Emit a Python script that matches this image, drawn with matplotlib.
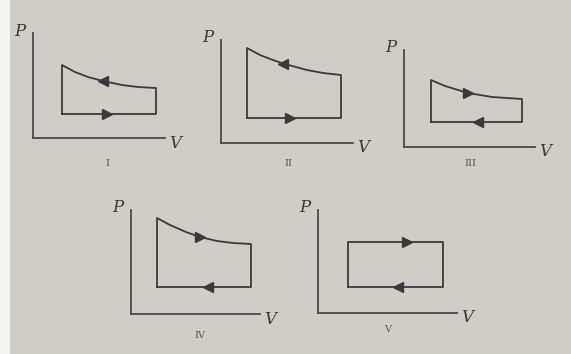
import matplotlib
matplotlib.use("Agg")
import matplotlib.pyplot as plt
from matplotlib.patches import Rectangle

W, H = 571, 354
bg = "#cfcdc8"
ink = "#3a3a3a"

# cycle data (V, P in arbitrary units from each origin)
names = ["I", "II", "III", "IV", "V"]

v_curve_1 = [29, 42, 55, 70, 89, 105, 123]
p_curve_1 = [73, 66, 61, 57, 53, 51, 50]
p_low_1 = 24

v_curve_2 = [26, 39, 52, 62, 86, 102, 120]
p_curve_2 = [95, 88, 83, 79.5, 73, 70, 68]
p_low_2 = 25

v_curve_3 = [27, 41, 64, 88, 118]
p_curve_3 = [67, 61, 54, 50, 48]
p_low_3 = 25

v_curve_4 = [26, 39, 55, 69, 86, 102, 120]
p_curve_4 = [96, 89, 82, 77, 73, 71, 70]
p_low_4 = 27

v_curve_5 = [30, 125]
p_curve_5 = [71, 71]
p_low_5 = 26

# arrow places on top / bottom sides and their direction (+1 = towards larger V)
top_arrow_v = [70, 62, 64, 69, 89]
top_arrow_dir = [-1, -1, 1, 1, 1]
low_arrow_v = [74, 69, 74, 77, 80]
low_arrow_dir = [1, 1, -1, -1, -1]

curves_v = [v_curve_1, v_curve_2, v_curve_3, v_curve_4, v_curve_5]
curves_p = [p_curve_1, p_curve_2, p_curve_3, p_curve_4, p_curve_5]
lows = [p_low_1, p_low_2, p_low_3, p_low_4, p_low_5]

# layout: origin (px), axis lengths (px), caption offset from origin
origins = [(33, 138), (221, 143), (404, 147), (131, 314), (318, 313)]
sizes = [(132, 105), (132, 103), (131, 97), (129, 104), (139, 103)]
captions = [(74, -25), (67, -20), (66, -16), (69, -21), (70, -17)]

fig = plt.figure(figsize=(W / 100, H / 100), dpi=100)
fig.patch.set_facecolor(bg)
fig.patches.append(Rectangle((0, 0), 10 / W, 1, transform=fig.transFigure,
                             facecolor="#f4f4f2", edgecolor="none"))


def interp_p(vs, ps, v):
    for k in range(len(vs) - 1):
        if vs[k] <= v <= vs[k + 1]:
            t = (v - vs[k]) / (vs[k + 1] - vs[k])
            return ps[k] + t * (ps[k + 1] - ps[k])
    return ps[-1]


for i in range(5):
    x0, y0 = origins[i]
    w, h = sizes[i]
    ax = fig.add_axes([x0 / W, (H - y0) / H, w / W, h / H])
    ax.set_xlim(0, w)
    ax.set_ylim(0, h)
    ax.patch.set_alpha(0)
    for s in ["top", "right"]:
        ax.spines[s].set_visible(False)
    for s in ["left", "bottom"]:
        ax.spines[s].set_color("#4a4a4a")
        ax.spines[s].set_linewidth(1.3)
    ax.set_xticks([])
    ax.set_yticks([])

    vs = curves_v[i]
    ps = curves_p[i]
    lo = lows[i]
    # closed cycle: curve on top, vertical sides, horizontal bottom
    xs = [vs[0]] + vs + [vs[-1], vs[0]]
    ys = [lo] + ps + [lo, lo]
    ax.plot(xs, ys, color=ink, lw=1.3, solid_joinstyle="round", clip_on=False)

    va = top_arrow_v[i]
    pa = interp_p(vs, ps, va)
    ax.plot(va, pa, marker=">" if top_arrow_dir[i] > 0 else "<",
            color=ink, ms=7, clip_on=False)
    ax.plot(low_arrow_v[i], lo, marker=">" if low_arrow_dir[i] > 0 else "<",
            color=ink, ms=7, clip_on=False)

    ax.text(-13, h + 2, "P", fontsize=12, style="italic", family="DejaVu Serif",
            color="#3a3a3a", ha="center", va="center")
    ax.text(w + 10, -5, "V", fontsize=12, style="italic", family="DejaVu Serif",
            color="#3a3a3a", ha="center", va="center")
    cx, cy = captions[i]
    ax.text(cx, cy, names[i], fontsize=7, family="DejaVu Serif",
            color="#555555", ha="center", va="center")

fig.savefig("out.png", dpi=100, facecolor=fig.get_facecolor())
